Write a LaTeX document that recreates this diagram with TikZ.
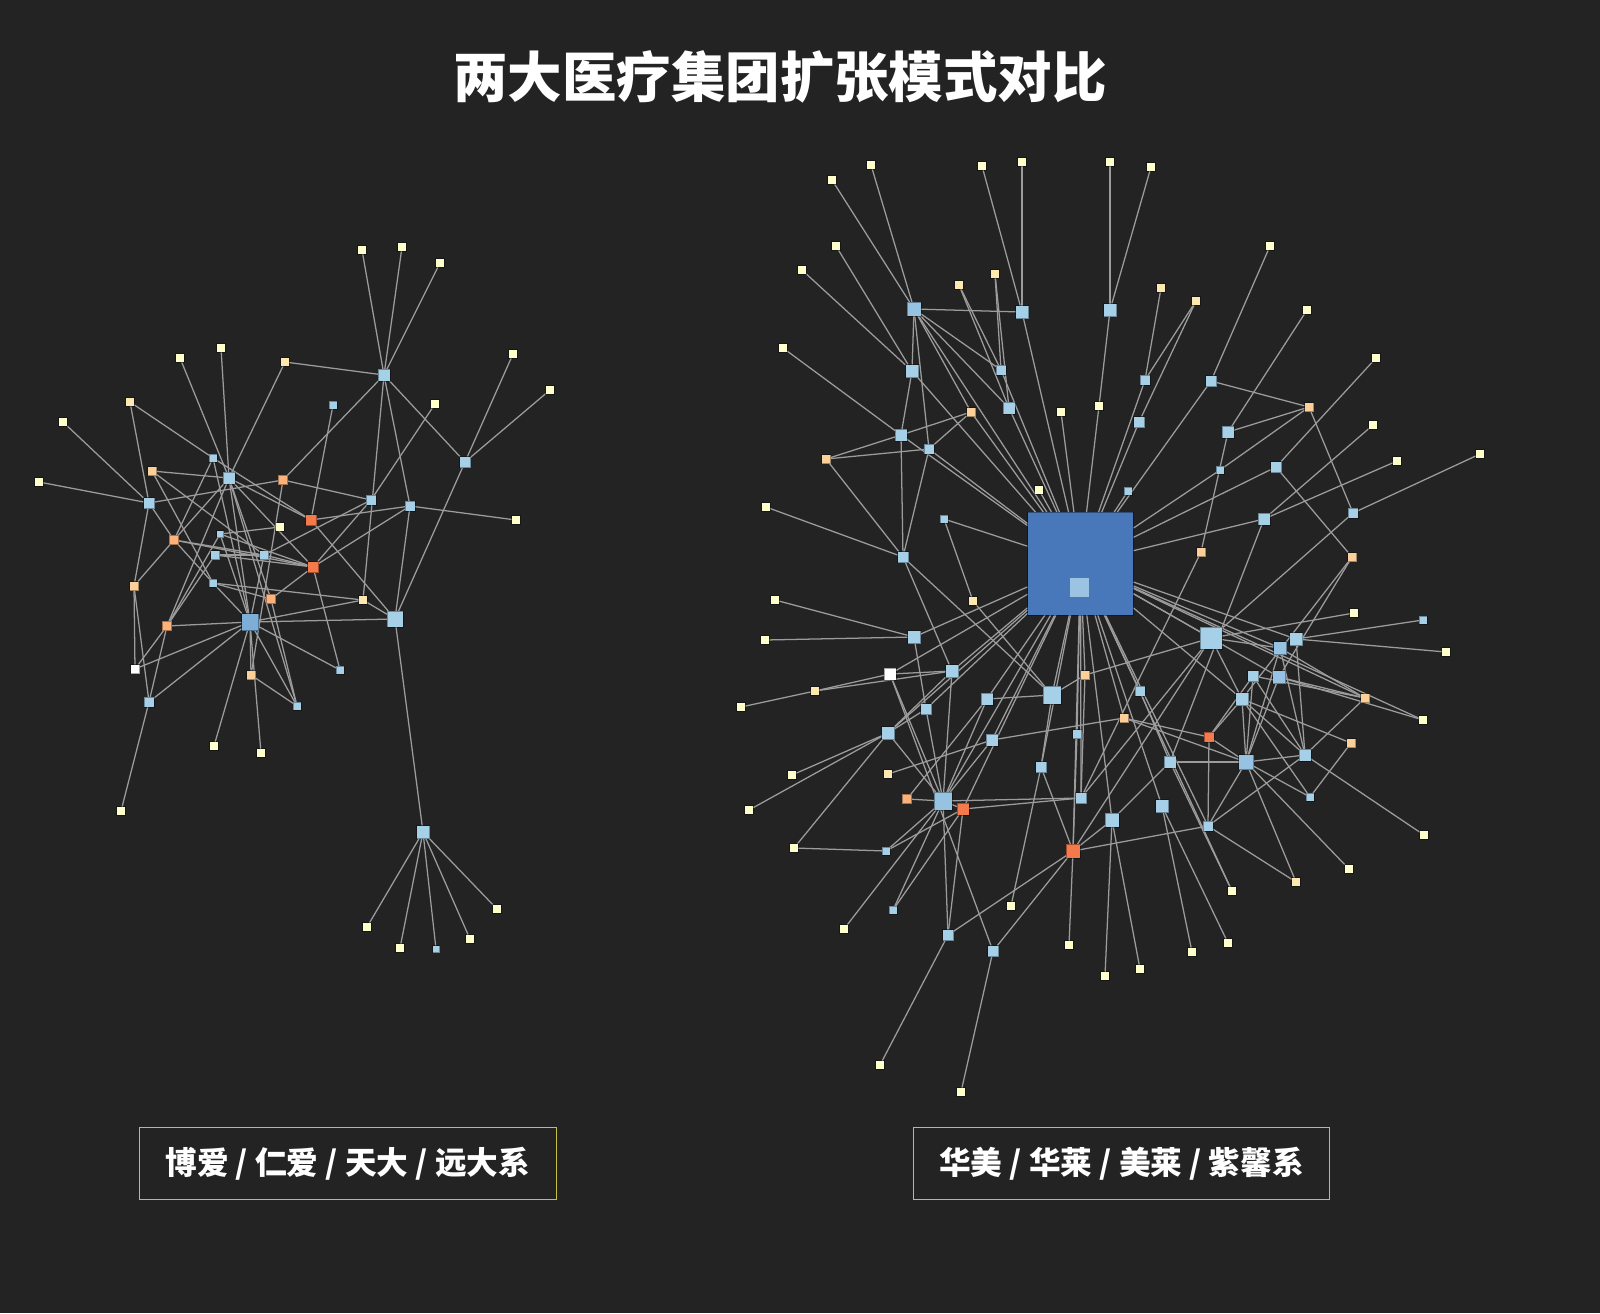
\documentclass[tikz,border=0pt]{standalone}
\usepackage{fontspec}
\newfontfamily\cjk{Noto Sans CJK SC}
\usetikzlibrary{positioning}
\definecolor{cBg}{HTML}{232323}
\definecolor{cLink}{HTML}{9C9C9C}
\definecolor{cYel}{HTML}{FFFFCC}
\definecolor{cTan}{HTML}{FEE8B2}
\definecolor{cPea}{HTML}{FDD09A}
\definecolor{cOra}{HTML}{FDB27C}
\definecolor{cRed}{HTML}{F57A4B}
\definecolor{cBlu}{HTML}{A6D0E8}
\definecolor{cBlu2}{HTML}{97C3E2}
\definecolor{cMid}{HTML}{7DAED8}
\definecolor{cHub}{HTML}{4878B9}
\definecolor{cIn}{HTML}{9CC4E2}
\definecolor{cBox}{HTML}{C8C040}
\pgfdeclarelayer{bg}
\pgfdeclarelayer{edges}
\pgfsetlayers{bg,edges,main}

\begin{document}
\begin{tikzpicture}[x=0.02cm, y=-0.02cm,
  nd/.style={rectangle, inner sep=0pt, outer sep=0pt, draw=black, draw opacity=0.35, line width=0.35pt, minimum size=#1*0.2mm},
  lf/.style={nd=8.5, fill=cYel},
  tn/.style={nd=8.5, fill=cTan},
  pc/.style={nd=9, fill=cPea},
  po/.style={nd=9.5, fill=cOra},
  rd/.style={nd=#1, fill=cRed},
  bl/.style={nd=#1, fill=cBlu}, bl/.default=11,
  bll/.style={nd=#1, fill=cBlu2},
  wh/.style={nd=#1, fill=white},
  link/.style={draw=cLink, line width=0.72pt},
  tag/.style={draw=cBox, line width=0.6pt, text=white, font=\cjk\bfseries\fontsize{18}{22}\selectfont,
    minimum width=417*0.2mm, minimum height=72.5*0.2mm, inner sep=0pt},
  ttl/.style={text=white, font=\cjk\bfseries\fontsize{31}{36}\selectfont}]

\begin{pgfonlayer}{bg}
  \fill[cBg] (0,0) rectangle (1600,1313);
\end{pgfonlayer}

\node[ttl] (title) at (780,77) {两大医疗集团扩张模式对比};
\node[tag] (tagL) at (347.7,1163.6) {博爱 / 仁爱 / 天大 / 远大系};
\node[tag] (tagR) at (1121.5,1163.6) {华美 / 华莱 / 美莱 / 紫馨系};

% left group
\node[lf] (a1) at (362,250) {};
\node[lf] (a2) at (402,247) {};
\node[lf] (a3) at (440,263) {};
\node[bl=12] (a4) at (384,375) {};
\node[tn] (a5) at (285,362) {};
\node[lf] (a6) at (221,348) {};
\node[lf] (a7) at (180,358) {};
\node[tn] (a8) at (130,402) {};
\node[lf] (a9) at (63,422) {};
\node[lf] (a10) at (39,482) {};
\node[bl=11] (a11) at (149,503) {};
\node[bl=8] (a12) at (213,458) {};
\node[bl=12] (a13) at (229,478) {};
\node[pc] (a14) at (152,471) {};
\node[po] (a15) at (283,480) {};
\node[bl=8] (a16) at (333,405) {};
\node[lf] (a17) at (435,404) {};
\node[lf] (a18) at (513,354) {};
\node[lf] (a19) at (550,390) {};
\node[bl=11] (a20) at (465,462) {};
\node[lf] (a21) at (516,520) {};
\node[bl=10] (a22) at (371,500) {};
\node[bl=10] (a23) at (410,506) {};
\node[rd=11] (a24) at (311,520) {};
\node[lf] (a25) at (280,527) {};
\node[po] (a26) at (174,540) {};
\node[bl=7] (a27) at (220,534) {};
\node[bl=9] (a28) at (215,555) {};
\node[bl=9] (a29) at (264,555) {};
\node[rd=11] (a30) at (313,567) {};
\node[pc] (a31) at (134,586) {};
\node[bl=8] (a32) at (213,583) {};
\node[po] (a33) at (271,599) {};
\node[tn] (a34) at (363,600) {};
\node[nd=17, fill=cMid] (a35) at (250,622) {};
\node[bl=16] (a36) at (395,619) {};
\node[po] (a37) at (167,626) {};
\node[wh=9] (a38) at (135,669) {};
\node[bl=8] (a39) at (340,670) {};
\node[pc] (a40) at (251,675) {};
\node[bl=10] (a41) at (149,702) {};
\node[bl=8] (a42) at (297,706) {};
\node[lf] (a43) at (214,746) {};
\node[lf] (a44) at (261,753) {};
\node[lf] (a45) at (121,811) {};
\node[bl=13] (a46) at (423,832) {};
\node[lf] (a47) at (367,927) {};
\node[lf] (a48) at (400,948) {};
\node[bl=7] (a49) at (436,949) {};
\node[lf] (a50) at (470,939) {};
\node[lf] (a51) at (497,909) {};

% right group
\node[nd, minimum width=106*0.2mm, minimum height=103*0.2mm, fill=cHub] (b0) at (1080.5,563.5) {};
\node[nd=19, fill=cIn, draw=none] (b0in) at (1079.5,587.5) {};
\node[lf] (b1) at (871,165) {};
\node[lf] (b2) at (832,180) {};
\node[lf] (b3) at (982,166) {};
\node[lf] (b4) at (1022,162) {};
\node[lf] (b5) at (1110,162) {};
\node[lf] (b118) at (1151,167) {};
\node[lf] (b6) at (836,246) {};
\node[lf] (b7) at (802,270) {};
\node[tn] (b8) at (959,285) {};
\node[tn] (b9) at (995,274) {};
\node[bll=14] (b10) at (914,309) {};
\node[bl=13] (b11) at (1022,312) {};
\node[bl=13] (b12) at (1110,310) {};
\node[lf] (b13) at (783,348) {};
\node[bl=13] (b14) at (912,371) {};
\node[bl=10] (b15) at (1001,370) {};
\node[bl=12] (b16) at (1009,408) {};
\node[pc] (b17) at (971,412) {};
\node[lf] (b18) at (1061,412) {};
\node[lf] (b19) at (1099,406) {};
\node[bl=12] (b20) at (901,435) {};
\node[bl=10] (b21) at (929,449) {};
\node[pc] (b22) at (826,459) {};
\node[lf] (b23) at (1039,490) {};
\node[lf] (b24) at (766,507) {};
\node[bl=8] (b25) at (944,519) {};
\node[tn] (b26) at (1161,288) {};
\node[tn] (b27) at (1196,301) {};
\node[lf] (b28) at (1270,246) {};
\node[lf] (b29) at (1307,310) {};
\node[bl=10] (b30) at (1145,380) {};
\node[bl=11] (b31) at (1139,422) {};
\node[bl=11] (b32) at (1211,381) {};
\node[pc] (b33) at (1309,407) {};
\node[bl=12] (b34) at (1228,432) {};
\node[lf] (b35) at (1376,358) {};
\node[bl=8] (b36) at (1220,470) {};
\node[bl=11] (b37) at (1276,467) {};
\node[lf] (b38) at (1373,425) {};
\node[lf] (b39) at (1397,461) {};
\node[lf] (b40) at (1480,454) {};
\node[bl=8] (b41) at (1128,491) {};
\node[bl=12] (b42) at (1264,519) {};
\node[bl=10] (b43) at (1353,513) {};
\node[pc] (b44) at (1201,552) {};
\node[pc] (b45) at (1352,557) {};
\node[lf] (b46) at (1354,613) {};
\node[bl=11] (b47) at (903,557) {};
\node[lf] (b48) at (775,600) {};
\node[tn] (b49) at (973,601) {};
\node[bl=13] (b50) at (914,637) {};
\node[lf] (b51) at (765,640) {};
\node[wh=12] (b52) at (890,674) {};
\node[bl=13] (b53) at (952,671) {};
\node[tn] (b54) at (815,691) {};
\node[pc] (b55) at (1085,675) {};
\node[bl=18] (b56) at (1052,695) {};
\node[lf] (b57) at (741,707) {};
\node[bl=12] (b58) at (987,699) {};
\node[bl=11] (b59) at (926,709) {};
\node[bl=13] (b60) at (888,733) {};
\node[pc] (b61) at (1124,718) {};
\node[bl=9] (b62) at (1077,734) {};
\node[bl=12] (b63) at (992,740) {};
\node[lf] (b64) at (792,775) {};
\node[tn] (b65) at (888,774) {};
\node[bl=11] (b66) at (1041,767) {};
\node[po] (b67) at (907,799) {};
\node[bll=18] (b68) at (943,801) {};
\node[rd=12] (b69) at (963,809) {};
\node[bl=11] (b70) at (1081,798) {};
\node[lf] (b71) at (749,810) {};
\node[bl=14] (b72) at (1112,820) {};
\node[rd=14] (b73) at (1073,851) {};
\node[lf] (b74) at (794,848) {};
\node[bl=8] (b75) at (886,851) {};
\node[bl=8] (b76) at (893,910) {};
\node[lf] (b77) at (1011,906) {};
\node[bl=22] (b78) at (1211,638) {};
\node[bl=8] (b80) at (1423,620) {};
\node[lf] (b81) at (1446,652) {};
\node[bl=13] (b82) at (1296,639) {};
\node[bll=13] (b83) at (1280,648) {};
\node[bl=11] (b85) at (1253,676) {};
\node[bll=13] (b86) at (1279,677) {};
\node[pc] (b87) at (1365,698) {};
\node[bl=10] (b88) at (1140,691) {};
\node[bl=13] (b89) at (1242,699) {};
\node[lf] (b90) at (1423,720) {};
\node[rd=10] (b92) at (1209,737) {};
\node[pc] (b93) at (1351,743) {};
\node[bl=12] (b94) at (1170,762) {};
\node[bll=15] (b95) at (1246,762) {};
\node[bl=12] (b96) at (1305,755) {};
\node[bl=8] (b97) at (1310,797) {};
\node[bl=13] (b98) at (1162,806) {};
\node[bl=10] (b100) at (1208,826) {};
\node[lf] (b101) at (1424,835) {};
\node[lf] (b102) at (1349,869) {};
\node[tn] (b103) at (1296,882) {};
\node[lf] (b104) at (1232,891) {};
\node[lf] (b105) at (1228,943) {};
\node[lf] (b106) at (1192,952) {};
\node[lf] (b107) at (1140,969) {};
\node[lf] (b108) at (1105,976) {};
\node[lf] (b109) at (844,929) {};
\node[bl=11] (b110) at (948,935) {};
\node[bl=11] (b111) at (993,951) {};
\node[lf] (b112) at (1069,945) {};
\node[lf] (b116) at (880,1065) {};
\node[lf] (b117) at (961,1092) {};

\begin{pgfonlayer}{edges}
% left links
\foreach \u/\v in {a4/a1,a4/a2,a4/a3,a4/a5,a4/a15,a4/a20,a4/a34,a4/a23,
  a20/a18,a20/a19,a20/a36,a17/a22,a22/a30,a22/a15,a22/a29,
  a23/a36,a23/a24,a23/a30,a23/a21,a16/a24,
  a5/a13,a6/a13,a7/a13,a8/a11,a8/a12,a9/a11,a10/a11,
  a11/a15,a11/a31,a11/a26,a12/a26,a12/a24,
  a14/a13,a14/a29,a14/a32,
  a13/a24,a13/a30,a13/a33,a13/a35,a13/a37,a13/a26,a13/a42,
  a15/a40,a24/a36,a27/a25,
  a30/a39,a30/a33,a30/a28,a30/a29,a30/a27,
  a26/a29,a26/a30,a26/a32,a26/a31,
  a28/a29,a28/a37,a31/a38,a31/a41,
  a32/a34,a32/a33,a32/a35,a33/a42,a34/a36,a34/a35,
  a35/a36,a35/a37,a35/a38,a35/a41,a35/a39,a35/a42,a35/a43,a35/a44,
  a35/a40,a35/a27,a35/a29,a35/a12,
  a37/a41,a37/a38,a37/a27,a41/a45,a40/a42,
  a36/a46,a46/a47,a46/a48,a46/a49,a46/a50,a46/a51}
  \draw[link] (\u) -- (\v);
% right links
\foreach \v in {b10,b11,b14,b15,b16,b17,b18,b19,b20,b21,b23,b25,b30,b31,b32,b36,b37,
  b41,b42,b50,b52,b53,b56,b58,b59,b60,b62,b63,b66,b68,b69,b70,b72,b73,b78,
  b82,b83,b86,b87,b88,b89,b90,b98,b100,b104,b61,b55}
  \draw[link] (b0) -- (\v);
\foreach \u/\v in {b10/b1,b10/b2,b10/b11,b10/b14,b10/b15,b10/b16,b10/b17,b10/b21,
  b14/b6,b14/b7,b14/b20,b20/b13,b20/b17,b20/b22,b20/b47,
  b21/b17,b21/b22,b21/b47,b22/b47,b24/b47,
  b8/b15,b8/b16,b9/b15,b9/b16,b3/b11,b4/b11,b5/b12,b118/b12,b12/b19,
  b26/b30,b27/b30,b27/b31,b28/b32,b32/b33,
  b29/b34,b33/b34,b33/b36,b33/b43,b34/b44,b35/b37,b37/b45,
  b38/b42,b39/b42,b42/b94,b40/b43,b43/b78,b44/b70,
  b45/b89,b45/b86,b46/b78,b25/b49,b49/b56,
  b47/b53,b47/b56,b48/b50,b51/b50,b50/b59,
  b52/b53,b52/b54,b52/b68,b52/b111,b53/b54,b53/b68,b53/b60,b54/b57,
  b55/b56,b55/b78,b55/b70,b56/b58,b56/b66,
  b58/b67,b58/b68,b59/b60,b59/b68,
  b60/b64,b60/b71,b60/b74,b60/b68,b63/b65,b63/b61,b63/b68,
  b62/b73,b66/b73,b66/b77,
  b68/b69,b68/b70,b69/b70,b68/b67,b68/b75,b69/b75,b68/b76,b69/b76,
  b68/b109,b68/b110,b69/b110,b74/b75,
  b73/b72,b73/b78,b73/b110,b73/b111,b73/b112,b73/b100,b70/b78,
  b72/b108,b72/b107,b72/b94,b98/b106,b98/b105,
  b94/b104,b94/b95,b88/b94,b61/b92,b61/b95,
  b92/b85,b92/b89,b92/b100,b92/b95,
  b95/b85,b95/b86,b95/b83,b95/b89,b95/b96,b95/b97,b95/b103,b95/b102,b95/b100,
  b96/b83,b96/b82,b96/b85,b96/b89,b96/b87,b96/b101,b96/b100,
  b89/b93,b89/b97,b97/b93,b85/b87,b86/b87,b83/b87,
  b78/b89,b78/b83,b82/b80,b82/b81,b86/b90,b100/b103,
  b110/b116,b111/b117}
  \draw[link] (\u) -- (\v);
\end{pgfonlayer}
\end{tikzpicture}
\end{document}
